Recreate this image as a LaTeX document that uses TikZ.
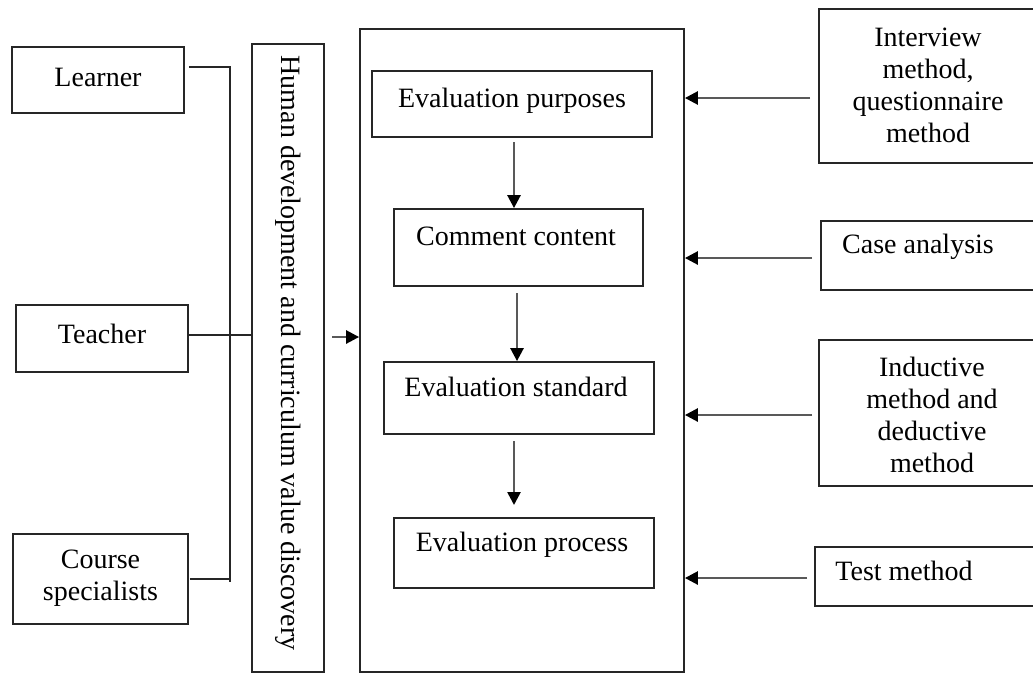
\documentclass[tikz,border=0pt]{standalone}
\usepackage{fontspec}
\setmainfont{Liberation Serif}
\usetikzlibrary{arrows.meta}
\tikzset{
  box/.style={draw=black!85, line width=1.8pt, inner sep=0pt, rectangle},
  txt/.style={inner sep=0pt, align=center, font=\fontsize{28}{32}\selectfont},
  link/.style={draw=black!85, line width=1.8pt},
  arr/.style={draw=black!65, line width=2.6pt, -{Triangle[length=13pt,width=13pt,color=black]}},
}
\begin{document}
\begin{tikzpicture}[x=1pt,y=-1pt]
\useasboundingbox (0,0) rectangle (1033,673);
\clip (0,0) rectangle (1033,673);
% left boxes
\node[box, minimum width=172pt, minimum height=66pt] (learner) at (98,80) {};
\node[txt] (tlearner) at (98,77) {Learner};
\node[box, minimum width=172pt, minimum height=67pt] (teacher) at (102,338.5) {};
\node[txt] (tteacher) at (102,334) {Teacher};
\node[box, minimum width=175pt, minimum height=90pt] (course) at (100.5,579) {};
\node[txt] (tcourse) at (100.5,578) {Course\\specialists};
% human box
\node[box, minimum width=72pt, minimum height=628pt] (human) at (288,358) {};
\node[txt, rotate=-90] (thuman) at (288,353) {Human development and curriculum value discovery};
% big box
\node[box, minimum width=324pt, minimum height=643pt] (big) at (522,350.5) {};
\node[box, minimum width=280pt, minimum height=66pt] (ep) at (512,104) {};
\node[txt] (tep) at (512,101) {Evaluation purposes};
\node[box, minimum width=249pt, minimum height=77pt] (cc) at (518.5,247.5) {};
\node[txt] (tcc) at (516,236) {Comment content};
\node[box, minimum width=270pt, minimum height=72pt] (es) at (519,398) {};
\node[txt] (tes) at (516,387) {Evaluation standard};
\node[box, minimum width=260pt, minimum height=70pt] (epr) at (524,553) {};
\node[txt] (tepr) at (522,545) {Evaluation process};
% right boxes
\node[box, minimum width=226pt, minimum height=154pt] (iv) at (932,86) {};
\node[txt] (tiv) at (928,85) {Interview\\method,\\questionnaire\\method};
\node[box, minimum width=224pt, minimum height=69pt] (ca) at (933,255.5) {};
\node[txt] (tca) at (918,247) {Case analysis};
\node[box, minimum width=226pt, minimum height=146pt] (ind) at (932,413) {};
\node[txt] (tind) at (932,415) {Inductive\\method and\\deductive\\method};
\node[box, minimum width=230pt, minimum height=59pt] (tm) at (930,576.5) {};
\node[txt] (ttm) at (904,571) {Test method};
% left connectors
\coordinate (j1) at (230,67);
\coordinate (j3) at (230,582);
\draw[link] ([xshift=4pt]learner.east |- j1) -- (j1) -- (j3);
\draw[link] ([xshift=1pt]course.east) -- (course.east -| j3);
\draw[link] (teacher.east |- 0,335) -- (human.west |- 0,335);
% human to big
\coordinate (h1) at (332,337);
\draw[arr] (h1) -- (big.west |- h1);
% vertical arrows
\draw[arr] (514,142) -- (cc.north -| 514,0);
\draw[arr] (517,293) -- (es.north -| 517,0);
\draw[arr] (514,441) -- (514,505);
% right arrows
\coordinate (r1) at (810,98);
\coordinate (r2) at (812,258);
\coordinate (r3) at (812,415);
\coordinate (r4) at (807,578);
\draw[arr] (r1) -- (big.east |- r1);
\draw[arr] (r2) -- (big.east |- r2);
\draw[arr] (r3) -- (big.east |- r3);
\draw[arr] (r4) -- (big.east |- r4);
\end{tikzpicture}
\end{document}
